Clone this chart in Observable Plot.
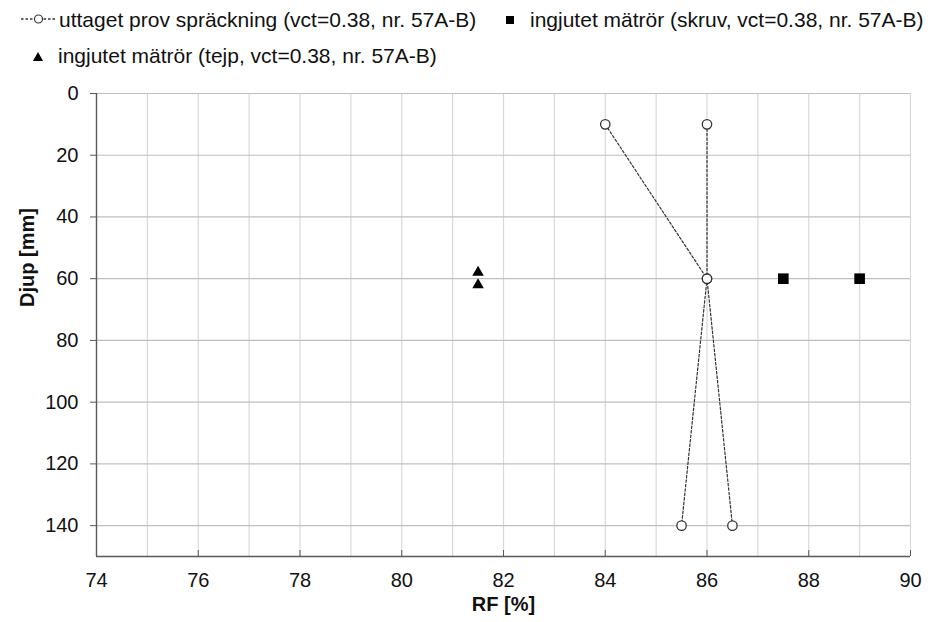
<!DOCTYPE html>
<html><head><meta charset="utf-8">
<script src="https://cdn.jsdelivr.net/npm/d3@7"></script>
<script src="https://cdn.jsdelivr.net/npm/@observablehq/plot@0.6"></script>
<style>
body{margin:0;background:#fff;font-family:"Liberation Sans",Arial,sans-serif;}
#chart svg{display:block}
</style></head><body>
<div id="chart"></div>
<script>
// ---- data ----
const seriesNames = ["uttaget prov spräckning (vct=0.38, nr. 57A-B)", "ingjutet mätrör (skruv, vct=0.38, nr. 57A-B)", "ingjutet mätrör (tejp, vct=0.38, nr. 57A-B)"];
const provA_rf = [84, 86, 85.5];
const provA_djup = [10, 60, 140];
const provB_rf = [86, 86, 86.5];
const provB_djup = [10, 60, 140];
const skruv_rf = [87.5, 89];
const skruv_djup = [60, 60];
const tejp_rf = [81.5, 81.5];
const tejp_djup = [58, 62];
const xDomain = [74, 90];
const yDomain = [0, 150];
const xTicks = [74, 76, 78, 80, 82, 84, 86, 88, 90];
const xGrid = [75, 76, 77, 78, 79, 80, 81, 82, 83, 84, 85, 86, 87, 88, 89, 90];
const yTicks = [0, 20, 40, 60, 80, 100, 120, 140];
const xLabel = "RF [%]";
const yLabel = "Djup [mm]";

const FONT = '"Liberation Sans", Arial, sans-serif';
const prov = [
  ...provA_rf.map((v, i) => ({rf: v, djup: provA_djup[i], s: "A"})),
  ...provB_rf.map((v, i) => ({rf: v, djup: provB_djup[i], s: "B"}))
];
const skruv = skruv_rf.map((v, i) => ({rf: v, djup: skruv_djup[i]}));
const tejp = tejp_rf.map((v, i) => ({rf: v, djup: tejp_djup[i]}));

// ---- legend ----
const LH = 75;
const leg = d3.create("svg").attr("width", 931).attr("height", LH)
  .style("display", "block").style("font-family", FONT).style("font-size", "21px");
leg.append("line").attr("x1", 21).attr("x2", 57).attr("y1", 19).attr("y2", 19)
  .attr("stroke", "#333").attr("stroke-width", 1.3).attr("stroke-dasharray", "2.5,2");
leg.append("circle").attr("cx", 38.5).attr("cy", 19).attr("r", 4).attr("fill", "#fff")
  .attr("stroke", "#333").attr("stroke-width", 1.2);
leg.append("text").attr("x", 59).attr("y", 27).attr("fill", "#111").text(seriesNames[0]);
leg.append("path").attr("transform", "translate(510,20)")
  .attr("d", d3.symbol(d3.symbolSquare, 64)()).attr("fill", "#000");
leg.append("text").attr("x", 530).attr("y", 27).attr("fill", "#111").text(seriesNames[1]);
leg.append("path").attr("transform", "translate(38,58)")
  .attr("d", d3.symbol(d3.symbolTriangle, 45)()).attr("fill", "#000");
leg.append("text").attr("x", 58).attr("y", 63).attr("fill", "#111").text(seriesNames[2]);
document.getElementById("chart").append(leg.node());

// ---- plot ----
const chart = Plot.plot({
  width: 931,
  height: 622 - LH,
  marginTop: 18,
  marginBottom: 66,
  marginLeft: 96,
  marginRight: 21,
  style: {fontFamily: FONT, fontSize: "20px", color: "#111", background: "#fff"},
  x: {domain: xDomain, label: null},
  y: {domain: yDomain, reverse: true, label: null},
  marks: [
    Plot.gridX(xGrid, {stroke: "#d9d9d9", strokeOpacity: 1, strokeWidth: 1.2}),
    Plot.gridY(yTicks, {stroke: "#bfbfbf", strokeOpacity: 1, strokeWidth: 1.2}),
    Plot.ruleX([xDomain[0]], {stroke: "#595959", strokeWidth: 1.4}),
    Plot.ruleY([yDomain[1]], {stroke: "#595959", strokeWidth: 1.4}),
    Plot.axisX(xTicks, {tickSize: -6, tickPadding: 22, stroke: "#595959", fontSize: 20, label: null}),
    Plot.axisY(yTicks, {tickSize: 6, tickPadding: 12, stroke: "#595959", fontSize: 20, label: null}),
    Plot.line(prov, {x: "rf", y: "djup", z: "s", stroke: "#333", strokeWidth: 1.2, strokeDasharray: "2.5,2"}),
    Plot.dot(prov, {x: "rf", y: "djup", r: 4.7, fill: "#fff", stroke: "#333", strokeWidth: 1.3}),
    Plot.dot(skruv, {x: "rf", y: "djup", symbol: "square", r: 6, fill: "#000", stroke: "none"}),
    Plot.dot(tejp, {x: "rf", y: "djup", symbol: "triangle", r: 4.3, fill: "#000", stroke: "none"}),
    Plot.text([xLabel], {frameAnchor: "bottom", dy: 54, fontWeight: "bold", fontSize: 20, fill: "#111"}),
    Plot.text([yLabel], {frameAnchor: "left", dx: -69, dy: -18, rotate: -90, fontWeight: "bold", fontSize: 20, fill: "#111"})
  ]
});
document.getElementById("chart").append(chart);
</script>
</body></html>
